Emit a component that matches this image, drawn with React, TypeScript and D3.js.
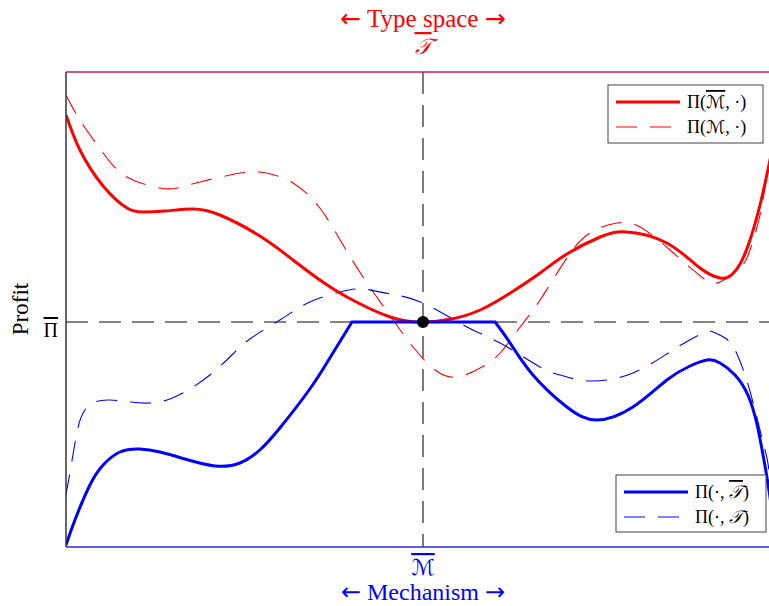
import { useEffect, useRef } from "react";
import * as d3 from "d3";

const WIDTH = 769;
const HEIGHT = 606;
const margin = { top: 72, right: -11, bottom: 59, left: 66 };

// x: position in mechanism / type space (0 = the optimum), y: profit relative to Π̄
const redSolid: [number, number][] = [
  [-1, 2.07], [-0.961, 1.72], [-0.896, 1.36], [-0.829, 1.14], [-0.784, 1.1],
  [-0.723, 1.11], [-0.644, 1.13], [-0.569, 1.07], [-0.457, 0.86], [-0.364, 0.62],
  [-0.289, 0.42], [-0.213, 0.25], [-0.092, 0.05], [0, 0], [0.08, 0.03],
  [0.16, 0.12], [0.24, 0.28], [0.328, 0.49], [0.403, 0.68], [0.496, 0.85],
  [0.571, 0.9], [0.683, 0.79], [0.776, 0.54], [0.832, 0.44], [0.86, 0.46],
  [0.888, 0.58], [0.916, 0.82], [0.944, 1.17], [0.969, 1.57], [1, 2.1],
];

const redDashed: [number, number][] = [
  [-1, 2.27], [-0.961, 2.02], [-0.896, 1.69], [-0.829, 1.45], [-0.737, 1.34],
  [-0.689, 1.34], [-0.625, 1.4], [-0.541, 1.47], [-0.457, 1.5], [-0.364, 1.39],
  [-0.289, 1.14], [-0.232, 0.82], [-0.168, 0.45], [-0.084, 0.02], [-0.028, -0.25],
  [0.034, -0.48], [0.095, -0.55], [0.16, -0.46], [0.216, -0.31], [0.272, -0.05],
  [0.328, 0.22], [0.403, 0.64], [0.468, 0.89], [0.543, 0.99], [0.608, 0.95],
  [0.692, 0.72], [0.784, 0.44], [0.832, 0.4], [0.888, 0.54], [0.916, 0.72],
  [0.944, 1.07], [0.966, 1.52], [1, 2.15],
];

// blue solid is capped at Π̄: left arm, flat part, right arm
const blueSolidLeft: [number, number][] = [
  [-1, -2.23], [-0.975, -1.98], [-0.933, -1.63], [-0.896, -1.43], [-0.849, -1.3],
  [-0.793, -1.27], [-0.737, -1.3], [-0.667, -1.37], [-0.583, -1.44], [-0.513, -1.41],
  [-0.457, -1.28], [-0.401, -1.06], [-0.317, -0.67], [-0.261, -0.36], [-0.199, 0],
];
const blueSolidRight: [number, number][] = [
  [0.202, 0], [0.244, -0.21], [0.308, -0.53], [0.403, -0.85], [0.487, -0.98],
  [0.588, -0.85], [0.683, -0.58], [0.748, -0.44], [0.796, -0.38], [0.832, -0.41],
  [0.874, -0.53], [0.91, -0.73], [0.936, -1.03], [0.955, -1.38], [0.969, -1.68],
  [1, -2.45],
];

const blueDashed: [number, number][] = [
  [-1, -1.73], [-0.983, -1.38], [-0.966, -1.05], [-0.947, -0.88], [-0.919, -0.8],
  [-0.877, -0.78], [-0.821, -0.8], [-0.765, -0.81], [-0.709, -0.77], [-0.653, -0.67],
  [-0.597, -0.53], [-0.541, -0.35], [-0.485, -0.17], [-0.401, 0.02], [-0.317, 0.2],
  [-0.232, 0.3], [-0.168, 0.33], [-0.092, 0.28], [0, 0.19], [0.123, -0.05],
  [0.216, -0.21], [0.328, -0.45], [0.384, -0.53], [0.468, -0.59], [0.588, -0.51],
  [0.7, -0.28], [0.784, -0.11], [0.812, -0.1], [0.846, -0.16], [0.874, -0.28],
  [0.902, -0.53], [0.93, -0.88], [0.958, -1.28], [0.969, -1.48], [1, -2.3],
];

const optimum: [number, number] = [0, 0];

type Part = { text: string; script?: boolean; bar?: boolean; arrow?: boolean };
const topLegend: { parts: Part[]; dashed: boolean }[] = [
  { parts: [{ text: "Π(" }, { text: "ℳ", script: true, bar: true }, { text: ", ·)" }], dashed: false },
  { parts: [{ text: "Π(" }, { text: "ℳ", script: true }, { text: ", ·)" }], dashed: true },
];
const bottomLegend: { parts: Part[]; dashed: boolean }[] = [
  { parts: [{ text: "Π(·, " }, { text: "𝒯", script: true, bar: true }, { text: ")" }], dashed: false },
  { parts: [{ text: "Π(·, " }, { text: "𝒯", script: true }, { text: ")" }], dashed: true },
];
const topTitle: Part[] = [{ text: "←", arrow: true }, { text: " Type space " }, { text: "→", arrow: true }];
const bottomTitle: Part[] = [{ text: "←", arrow: true }, { text: " Mechanism " }, { text: "→", arrow: true }];

const RED = "#ff0000";
const BLUE = "#0000ff";
const SERIF = "'Liberation Serif', 'DejaVu Serif', serif";
const SCRIPT = "'DejaVu Serif', 'DejaVu Sans', 'Noto Sans', serif";
const ARROW = "'DejaVu Sans', sans-serif";

const addMath = (sel: any, parts: Part[]) => {
  parts.forEach((p) => {
    const t = sel.append("tspan").text(p.text);
    if (p.script) t.style("font-family", SCRIPT).style("font-style", "italic");
    if (p.arrow) t.style("font-family", ARROW);
    if (p.bar) t.style("text-decoration", "overline");
  });
};

const ProfitChart = () => {
  const svgRef = useRef<SVGSVGElement>(null);

  useEffect(() => {
    const boundsWidth = WIDTH - margin.left - margin.right;
    const boundsHeight = HEIGHT - margin.top - margin.bottom;

    const xScale = d3.scaleLinear().domain([-1, 1]).range([0, boundsWidth]);
    const yScale = d3.scaleLinear().domain([-2.25, 2.5]).range([boundsHeight, 0]);

    const svg = d3.select(svgRef.current);
    svg.selectAll("*").remove();

    svg.append("defs").append("clipPath").attr("id", "plot-clip")
      .append("rect").attr("width", boundsWidth).attr("height", boundsHeight);

    const g = svg.append("g").attr("transform", `translate(${margin.left},${margin.top})`)
      .style("font-family", SERIF);

    // reference lines through the optimum
    g.append("line")
      .attr("x1", 0).attr("x2", boundsWidth)
      .attr("y1", yScale(0)).attr("y2", yScale(0))
      .attr("stroke", "#5c5c5c").attr("stroke-width", 1.6).attr("stroke-dasharray", "22 11");
    g.append("line")
      .attr("x1", xScale(0)).attr("x2", xScale(0))
      .attr("y1", 0).attr("y2", boundsHeight)
      .attr("stroke", "#5c5c5c").attr("stroke-width", 1.6).attr("stroke-dasharray", "22 11");

    const line = d3.line<[number, number]>()
      .x((d) => xScale(d[0]))
      .y((d) => yScale(d[1]))
      .curve(d3.curveNatural);

    const curves = g.append("g").attr("clip-path", "url(#plot-clip)");

    curves.append("path").attr("d", line(redDashed))
      .attr("fill", "none").attr("stroke", RED).attr("stroke-width", 1.1).attr("stroke-dasharray", "21 13");
    curves.append("path").attr("d", line(blueDashed))
      .attr("fill", "none").attr("stroke", BLUE).attr("stroke-width", 1.1).attr("stroke-dasharray", "21 13");
    curves.append("path").attr("d", line(redSolid))
      .attr("fill", "none").attr("stroke", RED).attr("stroke-width", 3);
    const bluePath = (line(blueSolidLeft) || "") + (line(blueSolidRight) || "").replace(/^M/, "L");
    curves.append("path").attr("d", bluePath)
      .attr("fill", "none").attr("stroke", BLUE).attr("stroke-width", 3)
      .attr("stroke-linejoin", "miter");

    g.append("circle").attr("cx", xScale(optimum[0])).attr("cy", yScale(optimum[1]))
      .attr("r", 6).attr("fill", "#000");

    // frame
    g.append("line").attr("x1", 0).attr("x2", boundsWidth).attr("y1", 0).attr("y2", 0)
      .attr("stroke", "#c01d5c").attr("stroke-width", 1.5);
    g.append("line").attr("x1", 0).attr("x2", boundsWidth).attr("y1", boundsHeight).attr("y2", boundsHeight)
      .attr("stroke", "#2a2ad6").attr("stroke-width", 1.5);
    g.append("line").attr("x1", 0).attr("x2", 0).attr("y1", 0).attr("y2", boundsHeight)
      .attr("stroke", "#333").attr("stroke-width", 1.5);

    // top: type space
    const cx = xScale(0);
    const tTitle = g.append("text").attr("x", cx).attr("y", -45).attr("text-anchor", "middle")
      .attr("fill", RED).style("font-size", "25px");
    addMath(tTitle, topTitle);
    const tBar = g.append("text").attr("x", cx).attr("y", -18).attr("text-anchor", "middle")
      .attr("fill", RED).style("font-size", "22px");
    addMath(tBar, [{ text: "𝒯", script: true, bar: true }]);

    // bottom: mechanism
    const mBar = g.append("text").attr("x", cx).attr("y", boundsHeight + 28).attr("text-anchor", "middle")
      .attr("fill", BLUE).style("font-size", "22px");
    addMath(mBar, [{ text: "ℳ", script: true, bar: true }]);
    const mTitle = g.append("text").attr("x", cx).attr("y", boundsHeight + 53).attr("text-anchor", "middle")
      .attr("fill", BLUE).style("font-size", "24px");
    addMath(mTitle, bottomTitle);

    // y axis
    g.append("text")
      .attr("transform", `translate(-38,${yScale(0) - 13}) rotate(-90)`)
      .attr("text-anchor", "middle").style("font-size", "23px").attr("fill", "#000").text("Profit");
    const piBar = g.append("text").attr("x", -8).attr("y", yScale(0) + 15).attr("text-anchor", "end")
      .style("font-size", "20px").attr("fill", "#000");
    addMath(piBar, [{ text: "Π", bar: true }]);

    // legends
    const drawLegend = (
      entries: { parts: Part[]; dashed: boolean }[],
      color: string,
      x: number,
      y: number,
      w: number,
      h: number,
    ) => {
      const lg = g.append("g").attr("transform", `translate(${x},${y})`);
      lg.append("rect").attr("width", w).attr("height", h)
        .attr("fill", "#fff").attr("stroke", "#444").attr("stroke-width", 1);
      entries.forEach((e, i) => {
        const ly = 17 + i * 25;
        lg.append("line").attr("x1", 8).attr("x2", 72).attr("y1", ly).attr("y2", ly)
          .attr("stroke", color).attr("stroke-width", e.dashed ? 1.1 : 3)
          .attr("stroke-dasharray", e.dashed ? "21 13" : null);
        const t = lg.append("text").attr("x", 79).attr("y", ly + 6)
          .style("font-size", "18px").attr("fill", "#000");
        addMath(t, e.parts);
      });
    };
    drawLegend(topLegend, RED, 542, 13, 155, 58);
    drawLegend(bottomLegend, BLUE, 550, 403, 150, 57);
  }, []);

  return (
    <svg
      ref={svgRef}
      width={WIDTH}
      height={HEIGHT}
      style={{ position: "absolute", left: 0, top: 0, background: "#fff" }}
    ></svg>
  );
};

export default function App() {
  return <ProfitChart />;
}
